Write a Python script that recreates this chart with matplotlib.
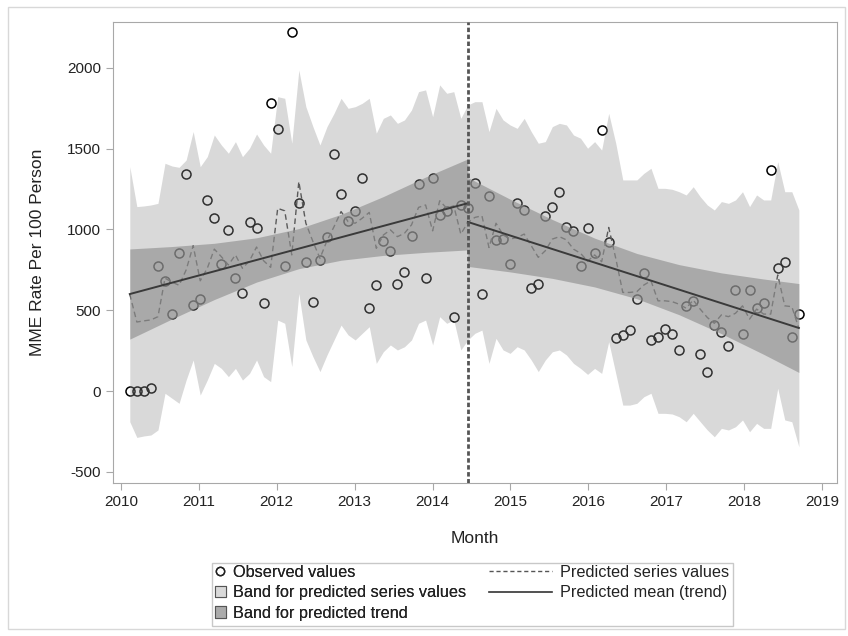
import numpy as np
import matplotlib.pyplot as plt
from matplotlib.patches import Patch, Rectangle
from matplotlib.lines import Line2D

plt.rcParams['font.family'] = ['Liberation Sans', 'DejaVu Sans']
plt.rcParams['axes.unicode_minus'] = False

# time axis: monthly points shown as decimal year, intervention at month 48
start_year = 2010.1155
month_step = 0.09037
n_months = 96
break_month = 48

observed = [0, 0, 0, 17, 775, 681, 476, 852, 1345, 532,
            567, 1180, 1073, 784, 994, 697, 606, 1048, 1007, 543,
            1784, 1623, 773, 2220, 1161, 796, 549, 813, 951, 1465,
            1221, 1050, 1116, 1318, 515, 656, 928, 868, 664, 736,
            959, 1278, 697, 1320, 1089, 1116, 458, 1150, 1130, 1287,
            598, 1205, 936, 940, 786, 1165, 1122, 639, 664, 1081,
            1139, 1230, 1015, 992, 775, 1007, 852, 1613, 920, 326,
            347, 376, 567, 728, 318, 332, 382, 353, 254, 526,
            557, 229, 116, 408, 367, 278, 623, 355, 623, 515,
            543, 1368, 763, 796, 336, 476]

predicted = [599, 427, 434, 440, 460, 698, 674, 654, 749, 899,
             682, 759, 878, 831, 780, 842, 759, 806, 891, 806,
             765, 1130, 1115, 842, 1295, 1038, 925, 821, 930, 1017,
             1110, 1048, 1038, 1069, 1105, 883, 965, 997, 955, 976,
             1028, 1136, 1151, 991, 1177, 1131, 1146, 971,
             1043, 1074, 1084, 888, 1038, 966, 940, 950, 971, 899,
             827, 868, 940, 955, 935, 878, 852, 803, 842, 800,
             1012, 821, 610, 610, 615, 656, 682, 558, 558, 553,
             537, 512, 563, 506, 455, 419, 471, 460, 481, 527,
             445, 507, 476, 476, 718, 527, 522, 388]

series_upper = [1388, 1141, 1145, 1151, 1161, 1409, 1392, 1384, 1429, 1605,
                1388, 1450, 1584, 1522, 1471, 1543, 1450, 1502, 1590, 1522,
                1471, 1821, 1811, 1533, 1986, 1759, 1636, 1522, 1636, 1718,
                1811, 1749, 1759, 1780, 1811, 1595, 1687, 1708, 1656, 1677,
                1739, 1852, 1863, 1697, 1894, 1842, 1852, 1687,
                1770, 1790, 1790, 1605, 1749, 1677, 1646, 1625, 1687, 1605,
                1533, 1543, 1636, 1656, 1646, 1584, 1564, 1502, 1543, 1491,
                1718, 1533, 1306, 1306, 1306, 1347, 1378, 1254, 1254, 1248,
                1233, 1213, 1264, 1202, 1151, 1120, 1172, 1161, 1182, 1233,
                1141, 1213, 1182, 1182, 1419, 1233, 1233, 1120]

series_lower = [-190, -287, -278, -272, -241, -14, -45, -76, 68, 192,
                -25, 68, 171, 140, 89, 140, 68, 109, 192, 89,
                58, 439, 419, 151, 604, 316, 213, 120, 223, 316,
                408, 347, 316, 357, 398, 171, 243, 285, 254, 274,
                316, 419, 439, 285, 460, 419, 439, 254,
                316, 357, 377, 171, 326, 254, 233, 274, 254, 192,
                120, 192, 243, 254, 223, 171, 140, 103, 140, 109,
                305, 109, -87, -87, -76, -35, -14, -138, -138, -142,
                -159, -190, -138, -190, -241, -283, -231, -241, -221, -179,
                -252, -200, -231, -231, 17, -179, -190, -345]

# trend (mean) and its band, before and after the break
pre_months = [0, 6, 12, 18, 24, 30, 36, 42, 48]
pre_trend_upper = [879, 894, 914, 948, 1005, 1093, 1203, 1324, 1436]
pre_trend_lower = [321, 446, 566, 674, 757, 809, 839, 858, 873]
pre_trend = [600, 1162]

post_months = [48, 54, 60, 66, 72, 78, 84, 90, 95]
post_trend_upper = [1321, 1187, 1061, 946, 851, 782, 731, 693, 665]
post_trend_lower = [771, 737, 697, 644, 571, 472, 355, 227, 115]
post_trend = [1046, 390]

t = start_year + month_step * np.arange(n_months)
t_pre = t[pre_months]
t_post = t[post_months]

fig = plt.figure(figsize=(8.48, 6.36), dpi=100)
ax = fig.add_axes([113/848, 1 - 483/636, (837 - 113)/848, (483 - 22)/636])

band_gray = '#8f8f8f'
ax.plot(t, observed, 'o', mfc='none', mec='black', mew=1.1, ms=6.5, zorder=1)
ax.plot(t, predicted, color='#404040', lw=1, ls=(0, (4, 2.5)), zorder=1.5)
ax.fill_between(t, series_lower, series_upper, color=band_gray, alpha=0.337, lw=0, zorder=2)
ax.fill_between(t_pre, pre_trend_lower, pre_trend_upper, color=band_gray, alpha=0.64, lw=0, zorder=3)
ax.fill_between(t_post, post_trend_lower, post_trend_upper, color=band_gray, alpha=0.64, lw=0, zorder=3)
ax.plot([t[0], t[break_month]], pre_trend, color='#3a3a3a', lw=1.4, zorder=4)
ax.plot([t[break_month], t[-1]], post_trend, color='#3a3a3a', lw=1.4, zorder=4)
ax.axvline(t[break_month], color='#555555', lw=2, ls=(0, (1.6, 0.9)), zorder=5)

ax.set_xlim(2009.9, 2019.19)
ax.set_ylim(-569, 2283)
ax.set_xticks(range(2010, 2020))
ax.set_yticks([-500, 0, 500, 1000, 1500, 2000])
for s in ax.spines.values():
    s.set_color('#a8a8a8')
ax.tick_params(colors='#a8a8a8', labelcolor='#222222', labelsize=11, length=5)
ax.set_xlabel('Month', fontsize=12.5, color='#222222', labelpad=16)
ax.set_ylabel('MME Rate Per 100 Person', fontsize=12.5, color='#222222', labelpad=16)

# legend: two columns drawn as two legends inside one frame
h1 = [Line2D([], [], marker='o', ls='none', mfc='none', mec='#222222', ms=6),
      Patch(facecolor='#d9d9d9', edgecolor='#555555', lw=0.8),
      Patch(facecolor='#ababab', edgecolor='#555555', lw=0.8)]
l1 = ['Observed values', 'Band for predicted series values', 'Band for predicted trend']
h2 = [Line2D([], [], color='#555555', lw=1, ls=(0, (3, 2))),
      Line2D([], [], color='#333333', lw=1.2)]
l2 = ['Predicted series values', 'Predicted mean (trend)']

leg_style = dict(loc='upper left', frameon=False, fontsize=11.7, labelspacing=0.33,
                 borderpad=0, borderaxespad=0)
leg1 = fig.legend(h1, l1, bbox_to_anchor=(215/848, 1 - 565/636), handlelength=0.65,
                  handleheight=0.7, handletextpad=0.45, **leg_style)
leg2 = fig.legend(h2, l2, bbox_to_anchor=(489/848, 1 - 565/636), handlelength=3.9,
                  handletextpad=0.45, **leg_style)
for lg in (leg1, leg2):
    for txt in lg.get_texts():
        txt.set_color('#222222')
fig.add_artist(leg1)

fig.patches.append(Rectangle((212/848, 1 - 626/636), 521/848, 63/636, transform=fig.transFigure,
                             fill=False, edgecolor='#c8c8c8', lw=1))
fig.patches.append(Rectangle((8/848, 1 - 629/636), 837/848, 622/636, transform=fig.transFigure,
                             fill=False, edgecolor='#d8d8d8', lw=1))

fig.savefig('out.png', dpi=100)
